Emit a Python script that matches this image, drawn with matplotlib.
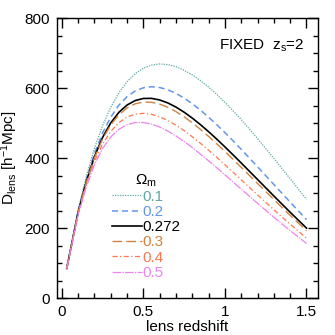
import matplotlib
matplotlib.use('Agg')
from matplotlib import pyplot as plt
from matplotlib.ticker import MultipleLocator

plt.rcParams['font.family'] = ['Liberation Sans', 'DejaVu Sans']
plt.rcParams['mathtext.fontset'] = 'custom'
plt.rcParams['mathtext.rm'] = 'Liberation Sans'
plt.rcParams['mathtext.it'] = 'Liberation Sans'

# lens redshift grid and D_lens [h^-1 Mpc] (source fixed at z=2)
z_lens = [0.03, 0.1, 0.15, 0.2, 0.25, 0.3, 0.35, 0.4, 0.45, 0.5, 0.55, 0.6, 0.65, 0.7,
          0.75, 0.8, 0.85, 0.9, 0.95, 1.0, 1.05, 1.1, 1.2, 1.3, 1.4, 1.5]
d_om01 = [85.4, 252.9, 347.9, 428.3, 493.3, 545.5, 586.8, 618.2, 641.2, 656.7, 665.8, 669.0, 667.2,
          661.0, 651.0, 637.7, 621.5, 602.8, 582.0, 559.3, 535.2, 509.7, 455.8, 399.1, 340.9, 282.2]
d_om02 = [85.0, 248.5, 338.6, 413.4, 472.0, 517.2, 551.4, 575.7, 591.9, 600.9, 603.9, 601.7, 595.2,
          584.8, 571.3, 555.2, 537.0, 516.9, 495.4, 472.8, 449.3, 425.0, 375.2, 324.6, 274.2, 224.5]
d_om0272 = [84.7, 245.7, 332.9, 404.5, 459.3, 500.7, 531.0, 551.7, 564.5, 570.4, 570.7, 566.1, 557.6,
            545.7, 531.1, 514.2, 495.5, 475.4, 454.2, 432.0, 409.2, 386.0, 338.9, 291.8, 245.3, 200.1]
d_om03 = [84.6, 244.7, 330.9, 401.3, 454.9, 494.9, 524.0, 543.5, 555.2, 560.1, 559.5, 554.2, 545.1,
          532.8, 517.9, 500.8, 482.0, 461.9, 440.8, 418.9, 396.5, 373.7, 327.5, 281.6, 236.4, 192.5]
d_om04 = [84.2, 241.5, 324.1, 390.8, 440.3, 476.3, 501.5, 517.4, 525.9, 528.0, 525.1, 517.9, 507.3,
          493.9, 478.3, 460.9, 442.2, 422.5, 402.0, 380.9, 359.5, 338.0, 294.9, 252.5, 211.2, 171.4]
d_om05 = [83.9, 238.5, 318.1, 381.6, 427.7, 460.3, 482.4, 495.5, 501.6, 501.7, 497.2, 488.7, 477.2,
          463.2, 447.4, 430.0, 411.5, 392.2, 372.4, 352.2, 331.8, 311.3, 270.8, 231.1, 192.8, 156.1]

labels = ['0.1', '0.2', '0.272', '0.3', '0.4', '0.5']
series = [d_om01, d_om02, d_om0272, d_om03, d_om04, d_om05]
colors = ['#5fa8a3', '#6495ed', 'black', '#d0823e', '#ff7650', '#ee82ee']
styles = [(0, (1, 1)), (0, (4, 2.5)), '-', (0, (7, 3)), (0, (4, 2, 1, 2)), (0, (7, 1, 1, 1))]
widths = [0.9, 1.1, 1.2, 1.0, 0.9, 0.9]

fig = plt.figure(figsize=(3.35, 3.35), dpi=100)
ax = fig.add_axes([0.170, 0.110, 0.779, 0.836])

for d, lab, c, ls, lw in zip(series, labels, colors, styles, widths):
    ax.plot(z_lens, d, color=c, linestyle=ls, linewidth=lw, label=lab)

ax.set_xlim(-0.03, 1.57)
ax.set_ylim(0, 800)
ax.xaxis.set_major_locator(MultipleLocator(0.5))
ax.xaxis.set_minor_locator(MultipleLocator(0.1))
ax.yaxis.set_major_locator(MultipleLocator(200))
ax.yaxis.set_minor_locator(MultipleLocator(50))
ax.xaxis.set_major_formatter(plt.FuncFormatter(lambda v, p: '%g' % v))
ax.tick_params(which='both', direction='in', top=True, right=True, width=1, labelsize=11)
ax.tick_params(which='major', length=7, pad=5)
ax.tick_params(which='minor', length=3.5)
for s in ax.spines.values():
    s.set_linewidth(1)

ax.set_xlabel('lens redshift', fontsize=11, labelpad=1)
ax.set_ylabel(r'D$_{\rm lens}$ [h$^{-1}$Mpc]', fontsize=11, labelpad=3)

ax.text(0.95, 0.90, r'FIXED  z$_{\rm s}$=2', transform=ax.transAxes, ha='right', va='center', fontsize=11)

leg = ax.legend(title=r'$\Omega_{\rm m}$', loc='upper left', bbox_to_anchor=(0.21, 0.45),
                frameon=False, handlelength=2.0, handletextpad=0.0, labelspacing=0.08,
                borderpad=0, borderaxespad=0, fontsize=11, title_fontsize=11,
                labelcolor='linecolor')

fig.savefig('out.png', dpi=100)
